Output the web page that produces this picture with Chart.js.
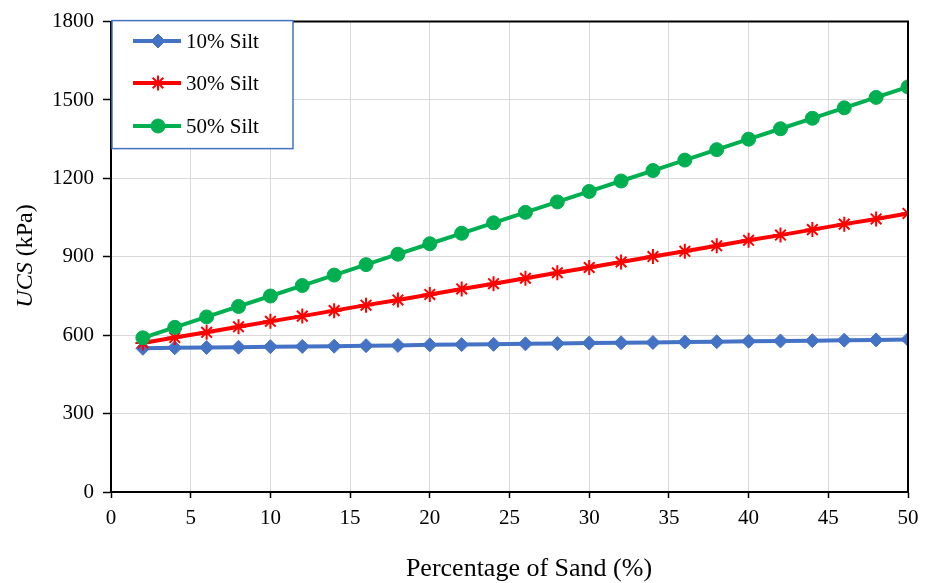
<!DOCTYPE html>
<html>
<head>
<meta charset="utf-8">
<script src="https://cdn.jsdelivr.net/npm/chart.js@4/dist/chart.umd.min.js"></script>
<style>
html,body{margin:0;padding:0;background:#fff;}
#wrap{position:relative;width:933px;height:583px;}
</style>
</head>
<body>
<div id="wrap"><canvas id="c" width="933" height="583"></canvas></div>
<script>
const sandPct = [2,4,6,8,10,12,14,16,18,20,22,24,26,28,30,32,34,36,38,40,42,44,46,48,50];
const silt10 = [550,552,553,554,556,557,558,560,561,563,564,565,567,568,570,571,572,574,575,577,578,579,581,582,584];
const silt30 = [570,591,611,632,653,673,694,715,735,756,777,797,818,839,859,880,901,921,942,963,983,1004,1025,1045,1066];
const silt50 = [590,630,670,710,750,790,830,870,910,950,990,1030,1070,1110,1150,1190,1230,1270,1310,1350,1390,1430,1470,1510,1550];
const seriesNames = ['10% Silt','30% Silt','50% Silt'];
const xTitle = 'Percentage of Sand (%)';
const yTitleItalic = 'UCS';
const yTitleRest = ' (kPa)';

const FONT = '"Liberation Serif", "Times New Roman", serif';

function pts(vals){ return sandPct.map((x,i)=>({x:x,y:vals[i]})); }

const extras = {
  id:'extras',
  afterDraw(chart){
    const ctx = chart.ctx, a = chart.chartArea;
    ctx.save();
    // plot border top/right
    ctx.strokeStyle = '#000'; ctx.lineWidth = 2;
    ctx.beginPath();
    ctx.moveTo(a.left, a.top); ctx.lineTo(a.right, a.top); ctx.lineTo(a.right, a.bottom);
    ctx.stroke();
    // legend box
    const lx = a.left+1, ly = a.top-1, lw = 181, lh = 128;
    ctx.fillStyle = '#fff';
    ctx.fillRect(lx, ly, lw, lh);
    ctx.strokeStyle = '#4472C4'; ctx.lineWidth = 1.5;
    ctx.strokeRect(lx, ly, lw, lh);
    const rows = [41, 83, 126];
    chart.data.datasets.forEach((ds, i) => {
      const y = rows[i];
      ctx.strokeStyle = ds.borderColor; ctx.lineWidth = 4;
      ctx.beginPath(); ctx.moveTo(133, y); ctx.lineTo(181, y); ctx.stroke();
      ctx.fillStyle = ds.pointBackgroundColor;
      ctx.strokeStyle = ds.pointBorderColor;
      ctx.lineWidth = ds.pointBorderWidth || 1;
      Chart.helpers.drawPoint(ctx, {pointStyle: ds.pointStyle, radius: ds.pointRadius, borderWidth: ds.pointBorderWidth||1, rotation:0}, 158, y);
      ctx.fillStyle = '#000';
      ctx.font = '21px ' + FONT;
      ctx.textBaseline = 'middle'; ctx.textAlign = 'left';
      ctx.fillText(ds.label, 186, y+1);
    });
    // x title
    ctx.fillStyle = '#000';
    ctx.font = '26px ' + FONT;
    ctx.textAlign = 'center'; ctx.textBaseline = 'middle';
    ctx.fillText(xTitle, 529, 569);
    // y title
    ctx.translate(26, 256);
    ctx.rotate(-Math.PI/2);
    ctx.textBaseline = 'middle';
    ctx.font = 'italic 24px ' + FONT;
    const w1 = ctx.measureText(yTitleItalic).width;
    ctx.font = '24px ' + FONT;
    const w2 = ctx.measureText(yTitleRest).width;
    let sx = -(w1+w2)/2;
    ctx.textAlign = 'left';
    ctx.font = 'italic 24px ' + FONT;
    ctx.fillText(yTitleItalic, sx, 0);
    ctx.font = '24px ' + FONT;
    ctx.fillText(yTitleRest, sx + w1, 0);
    ctx.restore();
  }
};

new Chart(document.getElementById('c'), {
  type: 'line',
  data: {
    datasets: [
      {label: seriesNames[0], data: pts(silt10), borderColor:'#4472C4', backgroundColor:'#4472C4', borderWidth:4,
       pointStyle:'rectRot', pointRadius:7, pointBorderWidth:1, pointBackgroundColor:'#4472C4', pointBorderColor:'#4472C4', fill:false, tension:0, order:3},
      {label: seriesNames[1], data: pts(silt30), borderColor:'#FF0000', backgroundColor:'#FF0000', borderWidth:4,
       pointStyle:'star', pointRadius:7.5, pointBorderWidth:2, pointBackgroundColor:'#FF0000', pointBorderColor:'#FF0000', fill:false, tension:0, order:2},
      {label: seriesNames[2], data: pts(silt50), borderColor:'#00B050', backgroundColor:'#00B050', borderWidth:4,
       pointStyle:'circle', pointRadius:7, pointBorderWidth:1, pointBackgroundColor:'#00B050', pointBorderColor:'#00B050', fill:false, tension:0, order:1}
    ]
  },
  options: {
    responsive:false,
    animation:false,
    events:[],
    layout:{padding:{left:0, top:20, right:25, bottom:0}},
    plugins:{legend:{display:false}, tooltip:{enabled:false}},
    scales:{
      x:{
        type:'linear', min:0, max:50,
        ticks:{stepSize:5, color:'#000', font:{family:FONT, size:21}, padding:8, maxRotation:0,
               callback:(v)=>String(v)},
        grid:{color:'#d9d9d9', lineWidth:1, tickColor:'#000', tickLength:6, tickWidth:1.5},
        border:{display:true, color:'#000', width:2},
        afterFit(s){ s.height = 91; }
      },
      y:{
        type:'linear', min:0, max:1800,
        ticks:{stepSize:300, color:'#000', font:{family:FONT, size:21}, padding:9,
               callback:(v)=>String(v)},
        grid:{color:'#d9d9d9', lineWidth:1, tickColor:'#000', tickLength:8, tickWidth:1.5},
        border:{display:true, color:'#000', width:2},
        afterFit(s){ s.width = 111; }
      }
    }
  },
  plugins:[extras]
});
</script>
</body>
</html>
